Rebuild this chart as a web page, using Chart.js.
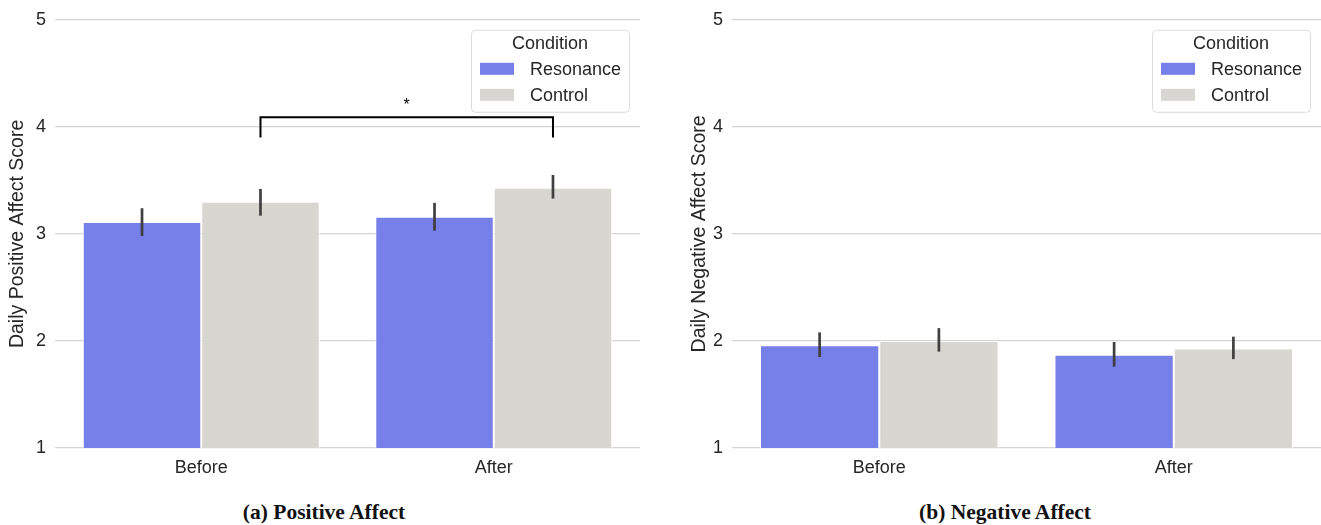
<!DOCTYPE html>
<html>
<head>
<meta charset="utf-8">
<script src="https://cdn.jsdelivr.net/npm/chart.js@4/dist/chart.umd.min.js"></script>
<style>
    body { margin: 0; background: #ffffff; width: 1321px; height: 525px; position: relative; overflow: hidden; }
    canvas { position: absolute; top: 0; }
    #positiveChart { left: 0; }
    #negativeChart { left: 660px; }
    .caption { position: absolute; top: 500px; font-family: "Liberation Serif", "DejaVu Serif", serif; font-weight: bold; font-size: 21.5px; color: #111; transform: translateX(-50%); white-space: nowrap; }
</style>
</head>
<body>
<canvas id="positiveChart" width="660" height="480"></canvas>
<canvas id="negativeChart" width="661" height="480"></canvas>
<div class="caption" style="left: 324px;">(a) Positive Affect</div>
<div class="caption" style="left: 1005px;">(b) Negative Affect</div>
<script>
const periods = ['Before', 'After'];
const conditions = ['Resonance', 'Control'];
const yTicks = [1, 2, 3, 4, 5];

// positive affect means and CI
const posResonance = [3.11, 3.16];
const posControl = [3.30, 3.43];
const posResonanceLow = [2.98, 3.03];
const posResonanceHigh = [3.24, 3.29];
const posControlLow = [3.17, 3.33];
const posControlHigh = [3.42, 3.55];

// negative affect means and CI
const negResonance = [1.96, 1.87];
const negControl = [2.00, 1.93];
const negResonanceLow = [1.85, 1.76];
const negResonanceHigh = [2.08, 1.99];
const negControlLow = [1.90, 1.83];
const negControlHigh = [2.12, 2.04];

// significance bracket (positive chart): between Control bars
const bracketTop = 4.09;
const bracketDrop = 3.90;
const bracketLabel = '*';

const resonanceColor = '#777fe8';
const controlColor = '#d8d6d0';
const errorColor = '#404040';
const sansFont = '"Liberation Sans", Arial, sans-serif';

const errorBarPlugin = {
    id: 'errorBars',
    afterDatasetsDraw(chart) {
        const ctx = chart.ctx;
        const yScale = chart.scales.y;
        const ranges = chart.options.plugins.errorBars.ranges;
        ctx.save();
        ctx.strokeStyle = errorColor;
        ctx.lineWidth = 2.7;
        ranges.forEach((range, datasetIndex) => {
            const meta = chart.getDatasetMeta(datasetIndex);
            meta.data.forEach((bar, i) => {
                ctx.beginPath();
                ctx.moveTo(bar.x, yScale.getPixelForValue(range.low[i]));
                ctx.lineTo(bar.x, yScale.getPixelForValue(range.high[i]));
                ctx.stroke();
            });
        });
        ctx.restore();
    }
};

const bracketPlugin = {
    id: 'bracket',
    afterDatasetsDraw(chart) {
        const opts = chart.options.plugins.bracket;
        if (!opts || !opts.show) {
            return;
        }
        const ctx = chart.ctx;
        const yScale = chart.scales.y;
        const meta = chart.getDatasetMeta(opts.datasetIndex);
        const x1 = meta.data[0].x;
        const x2 = meta.data[1].x;
        const yTop = yScale.getPixelForValue(opts.top);
        const yDrop = yScale.getPixelForValue(opts.drop);
        ctx.save();
        ctx.strokeStyle = '#000000';
        ctx.lineWidth = 2;
        ctx.beginPath();
        ctx.moveTo(x1, yDrop);
        ctx.lineTo(x1, yTop);
        ctx.lineTo(x2, yTop);
        ctx.lineTo(x2, yDrop);
        ctx.stroke();
        ctx.fillStyle = '#000000';
        ctx.font = '16px ' + sansFont;
        ctx.textAlign = 'center';
        ctx.textBaseline = 'bottom';
        ctx.fillText(opts.label, (x1 + x2) / 2, yTop - 4);
        ctx.restore();
    }
};

const boxLegendPlugin = {
    id: 'boxLegend',
    afterDatasetsDraw(chart) {
        const area = chart.chartArea;
        const ctx = chart.ctx;
        const w = 158;
        const h = 82;
        const left = area.right - 11 - w;
        const top = area.top + 10;
        ctx.save();
        ctx.fillStyle = 'rgba(255,255,255,0.85)';
        ctx.strokeStyle = '#dcdcdc';
        ctx.lineWidth = 1;
        ctx.beginPath();
        ctx.roundRect(left + 0.5, top + 0.5, w, h, 4);
        ctx.fill();
        ctx.stroke();

        ctx.fillStyle = '#262626';
        ctx.font = '18px ' + sansFont;
        ctx.textAlign = 'center';
        ctx.textBaseline = 'middle';
        ctx.fillText('Condition', left + w / 2, top + 14);

        ctx.textAlign = 'left';
        chart.data.datasets.forEach((ds, i) => {
            const cy = top + 39 + i * 26;
            ctx.fillStyle = ds.backgroundColor;
            ctx.fillRect(left + 9, cy - 6, 34, 12);
            ctx.fillStyle = '#262626';
            ctx.fillText(ds.label, left + 59, cy + 1);
        });
        ctx.restore();
    }
};

function buildChart(canvasId, title, resonance, control, resLow, resHigh, ctrlLow, ctrlHigh, padLeft, padRight, axisWidth, bracket) {
    return new Chart(document.getElementById(canvasId), {
        type: 'bar',
        data: {
            labels: periods,
            datasets: [{
                label: conditions[0],
                data: resonance,
                backgroundColor: resonanceColor,
                borderColor: '#ffffff',
                borderWidth: 1,
                categoryPercentage: 0.81,
                barPercentage: 1.0
            }, {
                label: conditions[1],
                data: control,
                backgroundColor: controlColor,
                borderColor: '#ffffff',
                borderWidth: 1,
                categoryPercentage: 0.81,
                barPercentage: 1.0
            }]
        },
        options: {
            responsive: false,
            animation: false,
            devicePixelRatio: 1,
            layout: {
                padding: { left: padLeft, right: padRight, top: 18, bottom: 0 }
            },
            plugins: {
                legend: { display: false },
                tooltip: { enabled: false },
                errorBars: {
                    ranges: [
                        { low: resLow, high: resHigh },
                        { low: ctrlLow, high: ctrlHigh }
                    ]
                },
                bracket: bracket
            },
            scales: {
                x: {
                    grid: { display: false },
                    border: { display: false },
                    ticks: {
                        color: '#262626',
                        font: { family: sansFont, size: 18 },
                        padding: 1
                    },
                    afterFit: function(axis) {
                        axis.height = 32;
                    }
                },
                y: {
                    min: 1,
                    max: 5,
                    afterBuildTicks: function(axis) {
                        axis.ticks = yTicks.map(v => ({ value: v }));
                    },
                    grid: {
                        color: '#d4d4d4',
                        lineWidth: 1.2,
                        drawTicks: false
                    },
                    border: { display: false },
                    ticks: {
                        color: '#262626',
                        font: { family: sansFont, size: 18 },
                        padding: 9
                    },
                    title: {
                        display: true,
                        text: title,
                        color: '#262626',
                        font: { family: sansFont, size: 19.5 },
                        padding: 0
                    },
                    afterFit: function(axis) {
                        axis.width = axisWidth;
                    }
                }
            }
        },
        plugins: [errorBarPlugin, bracketPlugin, boxLegendPlugin]
    });
}

document.addEventListener('DOMContentLoaded', function() {
    buildChart('positiveChart', 'Daily Positive Affect Score',
        posResonance, posControl, posResonanceLow, posResonanceHigh, posControlLow, posControlHigh,
        6, 20, 49,
        { show: true, datasetIndex: 1, top: bracketTop, drop: bracketDrop, label: bracketLabel });
    buildChart('negativeChart', 'Daily Negative Affect Score',
        negResonance, negControl, negResonanceLow, negResonanceHigh, negControlLow, negControlHigh,
        28, 0, 44,
        { show: false });
});
</script>
</body>
</html>
